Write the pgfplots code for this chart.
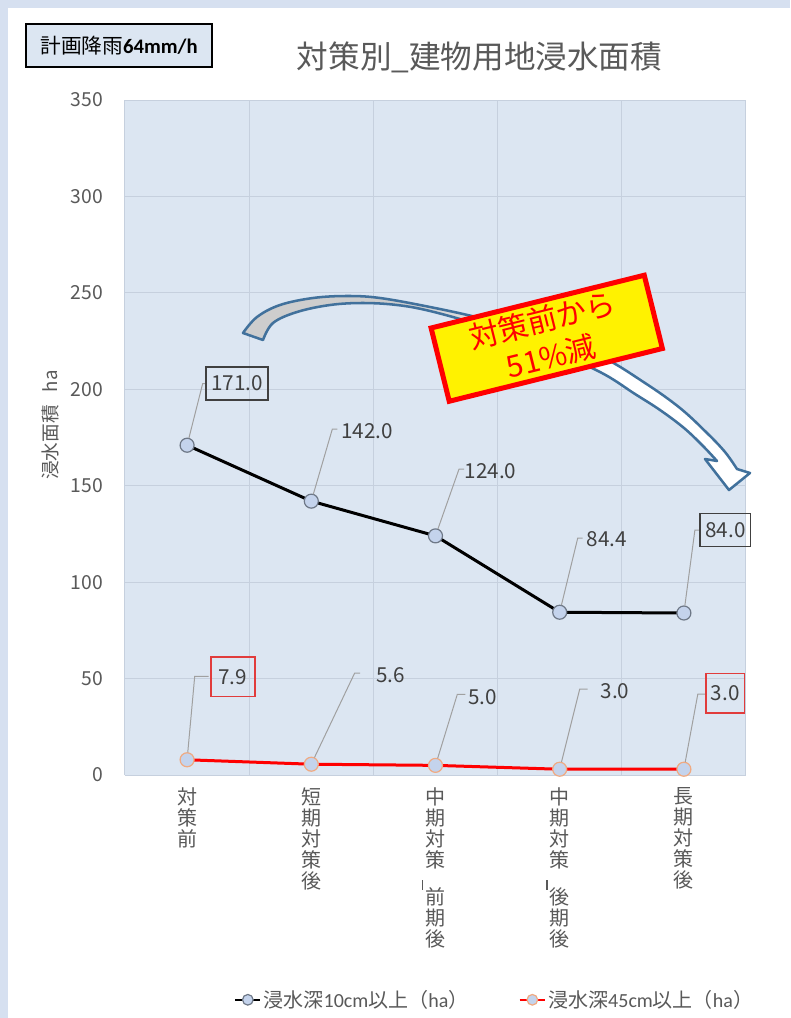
\documentclass[border=0pt]{standalone}
\usepackage{pgfplots}
\pgfplotsset{compat=1.18}
\usepackage{pgfplotstable}
\usepackage{fontspec}
\setmainfont{Noto Sans CJK JP}
\newfontfamily\latinfont{Carlito}
\usetikzlibrary{calc}

\definecolor{framebg}{RGB}{214,224,240}
\definecolor{plotbg}{RGB}{220,230,242}
\definecolor{gridc}{RGB}{198,208,222}
\definecolor{txtgray}{RGB}{89,89,89}
\definecolor{lblgray}{RGB}{64,64,64}
\definecolor{leadc}{RGB}{160,160,160}
\definecolor{markfill}{RGB}{196,211,236}
\definecolor{markedge}{RGB}{110,120,135}
\definecolor{redmark}{RGB}{240,170,130}
\definecolor{arrowline}{RGB}{65,113,156}
\definecolor{arrowgray}{RGB}{205,205,205}
\definecolor{sred}{RGB}{255,0,0}
\definecolor{boxred}{RGB}{225,60,60}

\pgfdeclarehorizontalshading{arrowfill}{100bp}{color(0bp)=(arrowgray); color(40bp)=(arrowgray); color(62bp)=(white); color(100bp)=(white)}

% flooded building-land area per measure stage (ha)
\pgfplotstableread{
idx d10 d45
0 171.0 7.9
1 142.0 5.6
2 124.0 5.0
3 84.4 3.0
4 84.0 3.0
}\floodtable

% vertical bar standing in for the underscore in stacked labels
\newcommand\ubar{\makebox[0pt][r]{\raisebox{0.72em}{\rule{0.06em}{0.5em}}\hspace{0.1em}}}
\newcommand\leader[4]{%
  \coordinate (lt) at ($(#1)+(#2,#3)$);
  \draw[leadc, line width=0.75pt] ($(#1)!5.5pt!(lt)$) -- (lt) -- ++(#4,0);}

\begin{document}
\begin{tikzpicture}
\begin{scope}[x=0.75pt,y=-0.75pt]
  \useasboundingbox (0,0) rectangle (790,1018);
  \fill[framebg] (0,0) rectangle (790,1018);
  \fill[white] (8,8) rectangle (790,1018);
  \coordinate (plotsw) at (125,775);
\end{scope}

\begin{axis}[
  at={(plotsw)}, anchor=south west,
  scale only axis, width=465.75pt, height=506.25pt,
  xmin=-0.5, xmax=4.5, ymin=0, ymax=350,
  ytick={0,50,...,350},
  xtick={0,1,2,3,4},
  minor xtick={-0.5,0.5,1.5,2.5,3.5,4.5},
  xmajorgrids=false, xminorgrids=true, ymajorgrids=true,
  grid style={gridc, line width=0.75pt},
  minor grid style={gridc, line width=0.75pt},
  axis background/.style={fill=plotbg},
  axis line style={draw=none},
  tick style={draw=none},
  major tick length=0pt, minor tick length=0pt,
  /pgf/number format/assume math mode=true,
  yticklabel style={font=\fontsize{14.5}{16}\selectfont, text=txtgray, xshift=-13pt},
  xticklabels={
    {対\\策\\前},
    {短\\期\\対\\策\\後},
    {中\\期\\対\\策\\[7pt]\ubar 前\\期\\後},
    {中\\期\\対\\策\\[7pt]\ubar 後\\期\\後},
    {長\\期\\対\\策\\後}},
  xticklabel style={anchor=north, align=center, text=txtgray,
    font=\fontsize{15}{15.8}\selectfont, yshift=-6pt},
  legend style={at={(0.595,-0.333)}, anchor=center, draw=none, fill=none,
    legend columns=2, font=\fontsize{15}{17}\selectfont, text=txtgray,
    nodes={inner xsep=1.5pt},
    /tikz/every even column/.append style={column sep=36pt}},
  legend image code/.code={%
    \draw[#1, line width=1.8pt] (0pt,0pt) -- (19pt,0pt);
    \draw[#1, mark size=4pt] plot coordinates {(9.5pt,0pt)};},
]
\addplot[black, line width=2.25pt, mark=*, mark size=5.25pt,
  mark options={fill=markfill, draw=markedge, line width=0.9pt}]
  table[x=idx, y=d10] {\floodtable};
\addplot[red, line width=2.25pt, mark=*, mark size=5.25pt,
  mark options={fill=markfill, draw=redmark, line width=0.9pt}]
  table[x=idx, y=d45] {\floodtable};
\legend{浸水深{\latinfont 10cm}以上（{\latinfont ha}）, 浸水深{\latinfont 45cm}以上（{\latinfont ha}）}

\coordinate (b0) at (axis cs:0,171.0);
\coordinate (b1) at (axis cs:1,142.0);
\coordinate (b2) at (axis cs:2,124.0);
\coordinate (b3) at (axis cs:3,84.4);
\coordinate (b4) at (axis cs:4,84.0);
\coordinate (r0) at (axis cs:0,7.9);
\coordinate (r1) at (axis cs:1,5.6);
\coordinate (r2) at (axis cs:2,5.0);
\coordinate (r3) at (axis cs:3,3.0);
\coordinate (r4) at (axis cs:4,3.0);
\end{axis}

\begin{scope}[x=0.75pt,y=-0.75pt,
  dlab/.style={text=lblgray, font=\fontsize{15.5}{18}\selectfont, inner sep=0pt},
  bbox/.style={dlab, draw=lblgray, line width=1.1pt, minimum width=46.5pt, minimum height=24.5pt},
  rbox/.style={dlab, draw=boxred, line width=1.1pt, minimum width=33pt, minimum height=29.5pt}]

  % data labels, 10 cm series
  \leader{b0}{15.6}{-61.7}{3.2}
  \node[bbox] at ($(b0)+(50,-61.7)$) {171.0};
  \leader{b1}{21}{-72}{5}
  \node[dlab] at ($(b1)+(56,-70)$) {142.0};
  \leader{b2}{23.5}{-66.7}{5}
  \node[dlab] at ($(b2)+(55,-65)$) {124.0};
  \leader{b3}{18}{-74}{5}
  \node[dlab] at ($(b3)+(47,-73)$) {84.4};
  \leader{b4}{11}{-83}{4}
  \node[bbox, minimum width=38pt] at ($(b4)+(41.5,-83)$) {84.0};

  % data labels, 45 cm series
  \leader{r0}{7.6}{-83.3}{13.9}
  \node[rbox] at ($(r0)+(45.7,-83)$) {7.9};
  \leader{r1}{43.3}{-91}{5.5}
  \node[dlab] at ($(r1)+(79.3,-89.3)$) {5.6};
  \leader{r2}{21.8}{-71}{8}
  \node[dlab] at ($(r2)+(47.3,-68.3)$) {5.0};
  \leader{r3}{20}{-80}{7.9}
  \node[dlab] at ($(r3)+(55.4,-78)$) {3.0};
  \leader{r4}{13.9}{-75}{7.9}
  \node[rbox, minimum width=29pt] at ($(r4)+(41.3,-75.8)$) {3.0};

  % curved block arrow
  \shadedraw[shading=arrowfill, draw=arrowline, line width=1.9pt, line join=round]
    plot[smooth, tension=0.6] coordinates {(243,333) (257,317) (280,305) (313,298)
      (347,296) (380,298) (430,307) (480,318) (540,334) (600,356) (645,383)
      (680,408) (707,433) (725,452) (737,469)}
    -- (750,473) -- (729,490) -- (705,459)
    -- plot[smooth, tension=0.6] coordinates {(717,461) (703,446) (684,428) (660,410)
      (635,394) (600,372) (540,345) (480,325) (430,311) (397,305) (363,303)
      (330,305) (297,312) (273,323) (263,340)}
    -- cycle;

  % reduction callout
  \node[draw=sred, line width=3.75pt, fill=yellow, rotate=13.9,
    minimum width=164.7pt, minimum height=56.6pt, inner sep=0pt, align=center,
    text=sred, font=\fontsize{22.5}{28}\selectfont] at (546.75,338.25) {対策前から\\51\%減};

  % titles
  \node[text=txtgray, font=\fontsize{23.7}{28}\selectfont] at (479.5,57) {対策別\_建物用地浸水面積};
  \node[draw=black, line width=1.2pt, fill=plotbg, minimum width=139.9pt,
    minimum height=32.6pt, inner sep=0pt, font=\fontsize{15.5}{18}\selectfont]
    at (119,45.5) {計画降雨{\latinfont\bfseries 64mm/h}};
  \node[rotate=90, text=txtgray, font=\fontsize{14}{16}\selectfont] at (50,425)
    {浸水面積\hspace{0.7em}ha};
\end{scope}
\end{tikzpicture}
\end{document}
